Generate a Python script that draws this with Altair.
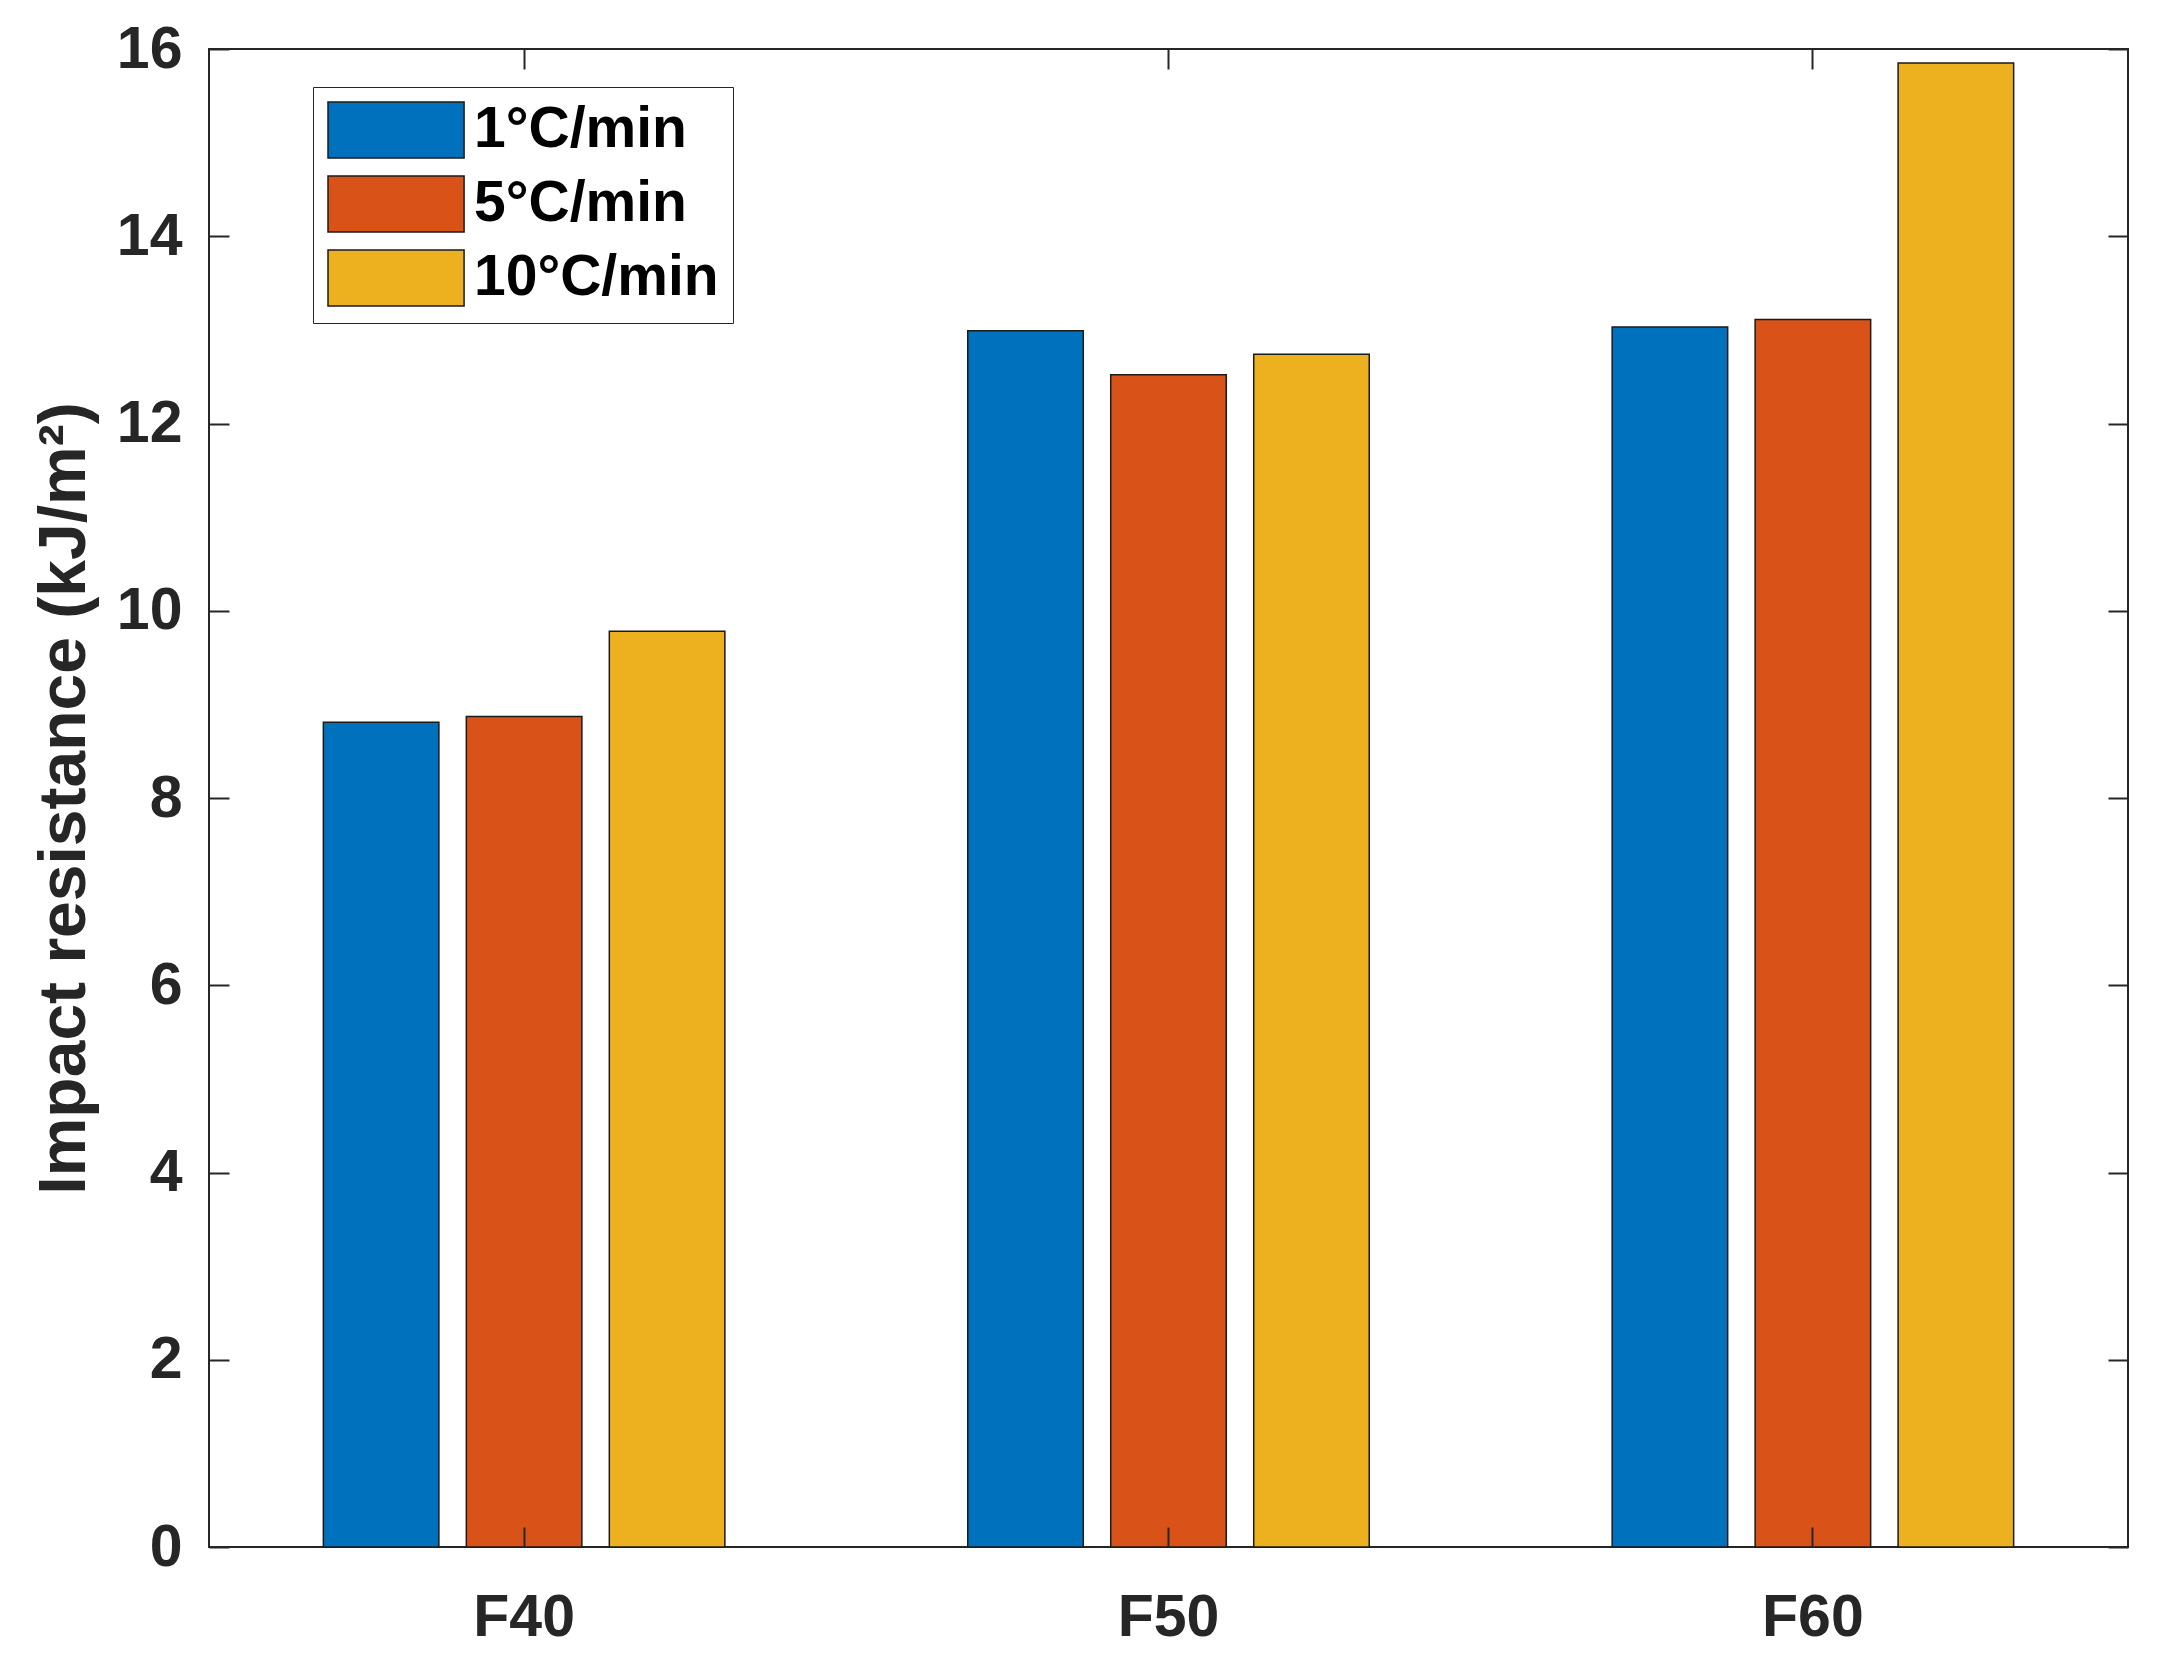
import altair as alt
import pandas as pd

groups = ["F40", "F50", "F60"]
rates = ["1°C/min", "5°C/min", "10°C/min"]
rate_1 = [8.81, 12.99, 13.03]
rate_5 = [8.87, 12.52, 13.11]
rate_10 = [9.78, 12.74, 15.85]
colors = ["#0072BD", "#D95319", "#EDB120"]
y_ticks = [0, 2, 4, 6, 8, 10, 12, 14, 16]

rows = []
for r, vals in zip(rates, [rate_1, rate_5, rate_10]):
    for g, v in zip(groups, vals):
        rows.append({"group": g, "rate": r, "value": v})
df = pd.DataFrame(rows)

FONT = "Liberation Sans"
INK = "#262626"
TICK = 20

x_scale = alt.Scale(domain=groups, paddingInner=0.1, paddingOuter=0.039)
y_scale = alt.Scale(domain=[0, 16], nice=False, zero=True)

bars = alt.Chart(df).mark_bar(stroke="#1a1a1a", strokeWidth=1.5).encode(
    x=alt.X("group:N", scale=x_scale, sort=groups, title=None,
            axis=alt.Axis(orient="bottom", labelFont=FONT, labelFontSize=59,
                          labelFontWeight="bold", labelColor=INK, labelAngle=0,
                          tickSize=TICK, offset=-TICK, labelPadding=41,
                          tickColor=INK, tickWidth=2, domain=False, grid=False,
                          zindex=1)),
    xOffset=alt.XOffset("rate:N", sort=rates,
                        scale=alt.Scale(domain=rates, paddingInner=0.192, paddingOuter=0.624)),
    y=alt.Y("value:Q", scale=y_scale, title="Impact resistance (kJ/m²)",
            axis=alt.Axis(orient="left", values=y_ticks, labelFont=FONT, labelFontSize=59,
                          labelFontWeight="bold", labelColor=INK,
                          tickSize=TICK, offset=-TICK, labelPadding=27,
                          tickColor=INK, tickWidth=2, domain=False, grid=False,
                          titleFont=FONT, titleFontSize=66, titleFontWeight="bold",
                          titleColor=INK, titlePadding=18, zindex=1)),
    color=alt.Color("rate:N", sort=rates,
                    scale=alt.Scale(domain=rates, range=colors),
                    legend=alt.Legend(orient="none", legendX=104, legendY=38,
                                      title=None, direction="vertical",
                                      symbolType="M-1,-1H3.86V1H-1Z",
                                      symbolSize=3136,
                                      symbolStrokeColor="#1a1a1a",
                                      symbolStrokeWidth=1.5,
                                      symbolOpacity=1,
                                      labelFont=FONT, labelFontSize=57,
                                      labelFontWeight="bold", labelColor="#000000",
                                      labelOffset=89, rowPadding=12,
                                      padding=14, strokeColor=INK,
                                      fillColor="#ffffff", labelLimit=0)),
)

frame = alt.Chart(df).mark_bar(opacity=0).encode(
    x=alt.X("group:N", scale=x_scale, sort=groups, title=None,
            axis=alt.Axis(orient="top", labels=False, tickSize=TICK, offset=-TICK,
                          tickColor=INK, tickWidth=2, domain=False, grid=False, zindex=1)),
    y=alt.Y("value:Q", scale=y_scale, title=None,
            axis=alt.Axis(orient="right", values=y_ticks, labels=False, tickSize=TICK,
                          offset=-TICK, tickColor=INK, tickWidth=2, domain=False,
                          grid=False, zindex=1)),
)

chart = alt.layer(bars, frame).resolve_axis(
    x="independent", y="independent"
).properties(
    width=1919, height=1498,
    autosize=alt.AutoSizeParams(type="none"),
    padding={"left": 201, "top": 41, "right": 21, "bottom": 100},
).configure_view(
    stroke=INK, strokeWidth=2
)

chart.save("out.html", embed_options={"renderer": "svg", "actions": False})
